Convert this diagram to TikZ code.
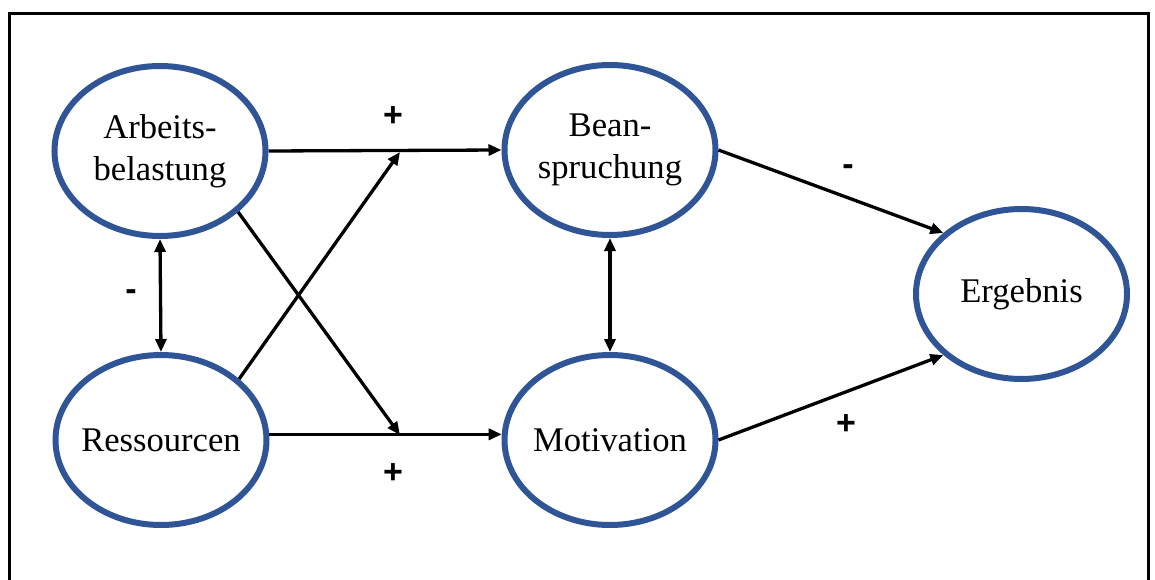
\documentclass[tikz,border=0pt]{standalone}
\usepackage{fontspec}
\setmainfont{Liberation Serif}
\newfontfamily\signfont{Liberation Sans}
\usetikzlibrary{arrows.meta,shapes.geometric}
\definecolor{ellblue}{RGB}{47,85,151}
\tikzset{
  construct/.style={ellipse, draw=ellblue, line width=6pt, minimum width=211pt, minimum height=170pt, inner xsep=-12pt, inner ysep=0pt, align=center, font=\fontsize{34.6}{42}\selectfont},
  link/.style={line width=3.3pt, -{Triangle[length=13pt,width=11pt]}},
  biline/.style={line width=3.3pt, {Triangle[length=13pt,width=11pt]}-{Triangle[length=13pt,width=11pt]}},
  sign/.style={font=\signfont\bfseries\fontsize{34}{40}\selectfont, inner sep=0pt},
  frame/.style={line width=3pt}
}
\begin{document}
\begin{tikzpicture}[x=1pt,y=-1pt]
\useasboundingbox (0,0) rectangle (1155,580);
\clip (0,0) rectangle (1155,580);
\coordinate (f1) at (9.5,600);
\coordinate (f2) at (9.5,13.5);
\coordinate (f3) at (1148.5,13.5);
\coordinate (f4) at (1148.5,600);
\draw[frame] (f1) -- (f2) -- (f3) -- (f4);

\node[construct] (A) at (160,151) {Arbeits-\\belastung};
\node[construct] (R) at (161,440) {Ressourcen};
\node[construct] (B) at (610,150) {Bean-\\spruchung};
\node[construct] (M) at (610,440) {Motivation};
\node[construct] (E) at (1021.5,294) {Ergebnis};

\coordinate (c1) at (400,152);
\coordinate (c2) at (400,435);

\draw[link] (A.east) -- (B.west);
\draw[link] (R.3) -- (M.177);
\draw[link] (R.38) -- (c1);
\draw[link] (A.-38) -- (c2);
\draw[biline] (A.south) -- (R.north);
\draw[biline] (B.south) -- (M.north);
\draw[link] (B.east) -- (E.142);
\draw[link] (M.east) -- (E.218);

\node[sign] (s1) at (393,117) {+};
\node[sign] (s2) at (393,474) {+};
\node[sign] (s3) at (131,295) {-};
\node[sign] (s4) at (848,170) {-};
\node[sign] (s5) at (846,425) {+};
\end{tikzpicture}
\end{document}
